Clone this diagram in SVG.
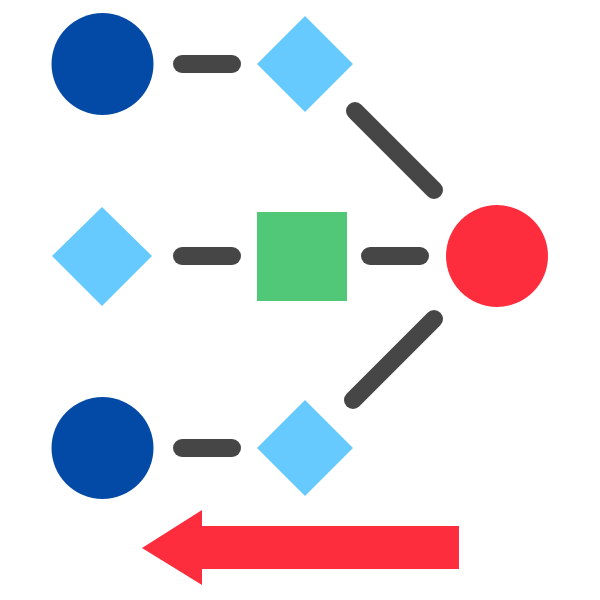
<svg xmlns="http://www.w3.org/2000/svg" width="600" height="600" viewBox="0 0 600 600">
<style>
.link{stroke:#464646;stroke-width:18;stroke-linecap:round;fill:none}
.navy{fill:#034AA6}
.sky{fill:#66CAFE}
.green{fill:#50C878}
.red{fill:#FD2D3E}
</style>
<rect width="600" height="600" fill="#fff"/>
<g id="connectors">
<line class="link" x1="182" y1="64" x2="232" y2="64"/>
<line class="link" x1="182" y1="256" x2="232" y2="256"/>
<line class="link" x1="370" y1="256" x2="420" y2="256"/>
<line class="link" x1="182" y1="448" x2="232" y2="448"/>
<line class="link" x1="355" y1="111" x2="434" y2="190"/>
<line class="link" x1="434" y1="319" x2="353" y2="400"/>
</g>
<g id="circle-top"><circle class="navy" cx="102.5" cy="64" r="51"/></g>
<g id="diamond-top"><polygon class="sky" points="305,16 353,64 305,112 257,64"/></g>
<g id="diamond-mid"><polygon class="sky" points="102,207 152,256 102,306 52,256"/></g>
<g id="square-mid"><rect class="green" x="257" y="212" width="90" height="89"/></g>
<g id="circle-red"><circle class="red" cx="497" cy="256" r="51"/></g>
<g id="circle-bottom"><circle class="navy" cx="102.5" cy="448" r="51"/></g>
<g id="diamond-bottom"><polygon class="sky" points="305,400 353,448 305,496 257,448"/></g>
<g id="arrow"><polygon class="red" points="142,548 202,510 202,526 459,526 459,569 202,569 202,585"/></g>
</svg>
